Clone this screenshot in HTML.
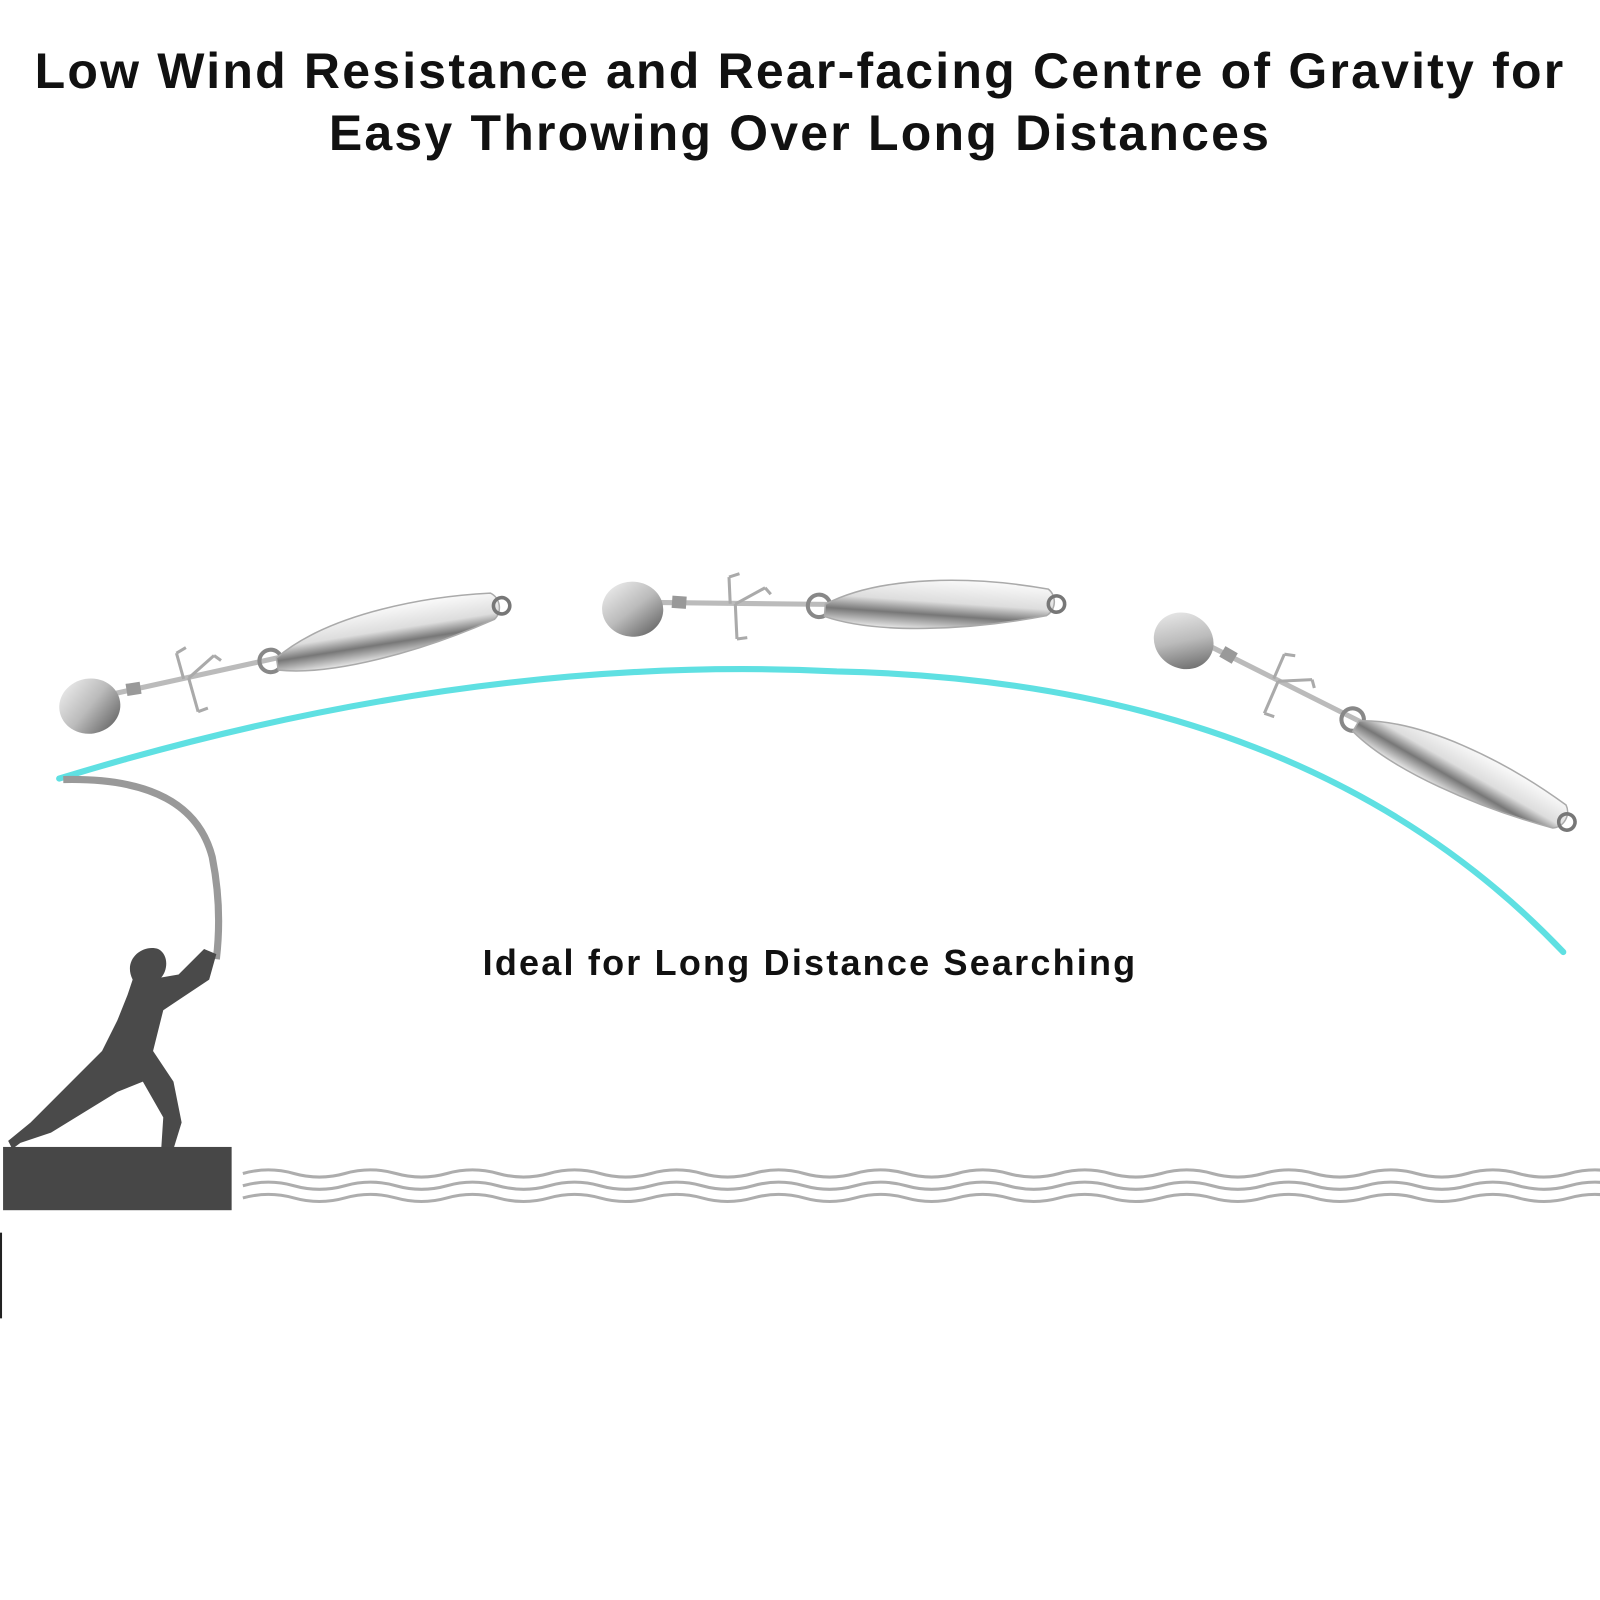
<!DOCTYPE html>
<html><head><meta charset="utf-8"><style>
html,body{margin:0;padding:0;background:#fff;}
body{width:1600px;height:1600px;overflow:hidden;position:relative;font-family:"Liberation Sans",sans-serif;}
.t{position:absolute;left:0;width:1600px;text-align:center;font-weight:bold;color:#111;}
</style></head><body>
<div class="t" style="top:40px;font-size:50px;line-height:62px;letter-spacing:2.2px;">Low Wind Resistance and Rear-facing Centre of Gravity for<br>Easy Throwing Over Long Distances</div>
<div class="t" style="top:942px;font-size:36px;left:440px;width:740px;letter-spacing:2.2px;">Ideal for Long Distance Searching</div>
<svg width="1600" height="1600" viewBox="0 0 1568 1568" style="position:absolute;left:0;top:0">
<defs>
<linearGradient id="sp" x1="0" y1="0" x2="1" y2="1"><stop offset="0" stop-color="#f4f4f4"/><stop offset=".5" stop-color="#bbb"/><stop offset="1" stop-color="#555"/></linearGradient>
<linearGradient id="bd" x1="0" y1="0" x2="0" y2="1"><stop offset="0" stop-color="#fafafa"/><stop offset=".45" stop-color="#ddd"/><stop offset=".7" stop-color="#777"/><stop offset="1" stop-color="#e8e8e8"/></linearGradient>
<g id="lure">
<line x1="20" y1="-8" x2="190" y2="-18" stroke="#bbb" stroke-width="5"/>
<path d="M95,-12 L92,-38 M92,-38 l10,-4 M100,-12 L104,22 M104,22 l10,-2 M100,-12 L128,-30 M128,-30 l6,6" stroke="#aaa" stroke-width="3" fill="none"/>
<ellipse cx="0" cy="0" rx="30" ry="27" fill="url(#sp)"/>
<rect x="38" y="-16" width="14" height="12" fill="#999"/>
<circle cx="182" cy="-16" r="11" fill="none" stroke="#888" stroke-width="4"/>
<path d="M188,-18 C240,-50 330,-56 405,-48 C414,-42 414,-28 405,-22 C330,-2 240,8 188,-6 Z" fill="url(#bd)" stroke="#aaa" stroke-width="1.5"/>
<circle cx="414" cy="-34" r="8" fill="none" stroke="#777" stroke-width="3.5"/>
</g>
</defs>
<path d="M58,763 Q460,640 820,658 Q1280,668 1532,933" stroke="#5fe0e2" stroke-width="6" fill="none" stroke-linecap="round"/>
<use href="#lure" transform="translate(88,692) rotate(-9)"/>
<use href="#lure" transform="translate(620,597) rotate(4)"/>
<use href="#lure" transform="translate(1160,628) rotate(30)"/>
<path d="M62,764 C150,762 195,790 208,840 C216,880 215,915 212,940" stroke="#999" stroke-width="7" fill="none"/>
<path d="M130,960 C120,940 140,925 155,930 C165,935 165,950 158,958 L175,955 L200,930 L212,935 L205,960 L175,980 L160,990 L150,1030 L170,1060 L178,1100 L170,1126 L158,1126 L160,1095 L140,1060 L115,1070 L50,1110 L20,1120 L12,1126 L8,1118 L30,1100 L70,1060 L100,1030 L115,1000 L125,975 Z" fill="#4a4a4a"/>
<rect x="3" y="1124" width="224" height="62" fill="#474747"/>
<g fill="none" stroke="#999" stroke-width="3" opacity=".8">
<path id="w" d="M238,1150 q25,-7 50,0 t50,0 t50,0 t50,0 t50,0 t50,0 t50,0 t50,0 t50,0 t50,0 t50,0 t50,0 t50,0 t50,0 t50,0 t50,0 t50,0 t50,0 t50,0 t50,0 t50,0 t50,0 t50,0 t50,0 t50,0 t50,0 t50,0"/>
<use href="#w" y="12"/><use href="#w" y="24"/>
</g>
<rect x="0" y="1208" width="2" height="84" fill="#222"/>
</svg>
</body></html>
